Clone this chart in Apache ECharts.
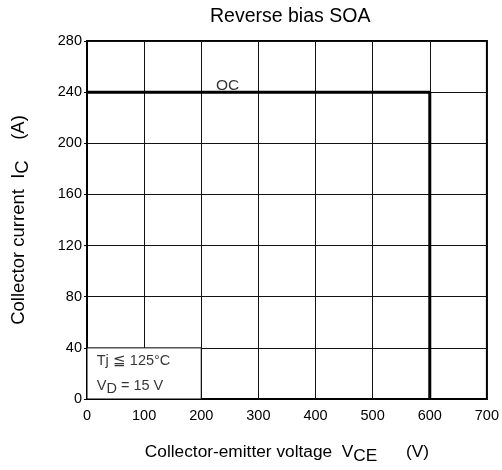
<!DOCTYPE html>
<html>
<head>
<meta charset="utf-8">
<script src="https://cdn.jsdelivr.net/npm/echarts@6/dist/echarts.min.js"></script>
<style>
html,body{margin:0;padding:0;background:#fff;}
#chart{width:502px;height:470px;}
</style>
</head>
<body>
<div id="chart"></div>
<script>
// ---- data ----
const titleText = 'Reverse bias SOA';
const xRange = [0, 700, 100];
const yRange = [0, 280, 40];
const ocVoltage = [0, 600, 600];
const ocCurrent = [240, 240, 0];
const noteBoxX = [0, 200];
const noteBoxY = [0, 40];
const annotationText = ['OC', 'Tj ≦ 125°C', '{n|V}{s|D}{n| = 15 V}'];
const annotationX = [246, 17, 17];
const annotationY = [245, 29.5, 10.5];
const annotationAlign = ['center', 'left', 'left'];
const annotationSize = [15.5, 14.5, 14.5];

const FONT = 'Liberation Sans, Arial, sans-serif';
const chart = echarts.init(document.getElementById('chart'), null, {renderer: 'canvas'});

const ocData = ocVoltage.map((v, i) => [v, ocCurrent[i]]);
const annData = annotationText.map((t, i) => ({
  value: [annotationX[i], annotationY[i]],
  label: {
    formatter: t, align: annotationAlign[i], fontSize: annotationSize[i],
    rich: {
      n: {fontFamily: FONT, fontSize: annotationSize[i], color: '#000'},
      s: {fontFamily: FONT, fontSize: annotationSize[i], color: '#000', padding: [7, 0, 0, 0]}
    }
  }
}));

function subRich(size) {
  return {
    n: {fontFamily: FONT, fontSize: size, color: '#000'},
    s: {fontFamily: FONT, fontSize: size, color: '#000', padding: [8, 0, 0, 0]}
  };
}

chart.setOption({
  animation: false,
  backgroundColor: '#fff',
  title: {
    text: titleText, left: 205, top: 2,
    textStyle: {fontFamily: FONT, fontSize: 19.5, fontWeight: 'normal', color: '#000'}
  },
  grid: {left: 87, right: 15, top: 41, bottom: 69, show: true, borderColor: '#000', borderWidth: 2, backgroundColor: 'transparent'},
  xAxis: {
    type: 'value', min: xRange[0], max: xRange[1], interval: xRange[2],
    axisLine: {show: true, lineStyle: {color: '#000', width: 2}},
    axisTick: {show: false},
    axisLabel: {color: '#000', fontFamily: FONT, fontSize: 14.5, margin: 9},
    splitLine: {show: true, lineStyle: {color: '#111', width: 1}},
    name: '{n|Collector-emitter voltage  V}{s|CE}{n|      (V)}',
    nameLocation: 'middle', nameGap: 41,
    nameTextStyle: {rich: subRich(17.3)}
  },
  yAxis: {
    type: 'value', min: yRange[0], max: yRange[1], interval: yRange[2],
    axisLine: {show: true, lineStyle: {color: '#000', width: 2}},
    axisTick: {show: true, length: 3, lineStyle: {color: '#000', width: 1}},
    axisLabel: {color: '#000', fontFamily: FONT, fontSize: 14.5, margin: 5},
    splitLine: {show: true, lineStyle: {color: '#111', width: 1}},
    name: '{n|Collector current  I}{s|C}{n|    (A)}',
    nameLocation: 'middle', nameGap: 55,
    nameTextStyle: {rich: subRich(18.5)}
  },
  series: [
    {
      type: 'line', data: ocData, symbol: 'none',
      lineStyle: {color: '#000', width: 3},
      z: 5,
      markArea: {
        silent: true,
        itemStyle: {color: '#fff', borderColor: '#000', borderWidth: 1},
        data: [[{coord: [noteBoxX[0], noteBoxY[0]]}, {coord: [noteBoxX[1], noteBoxY[1]]}]]
      }
    },
    {
      type: 'scatter', data: annData, symbolSize: 0, z: 10,
      label: {show: true, position: 'inside', color: '#000', fontFamily: FONT}
    }
  ]
});
</script>
</body>
</html>
